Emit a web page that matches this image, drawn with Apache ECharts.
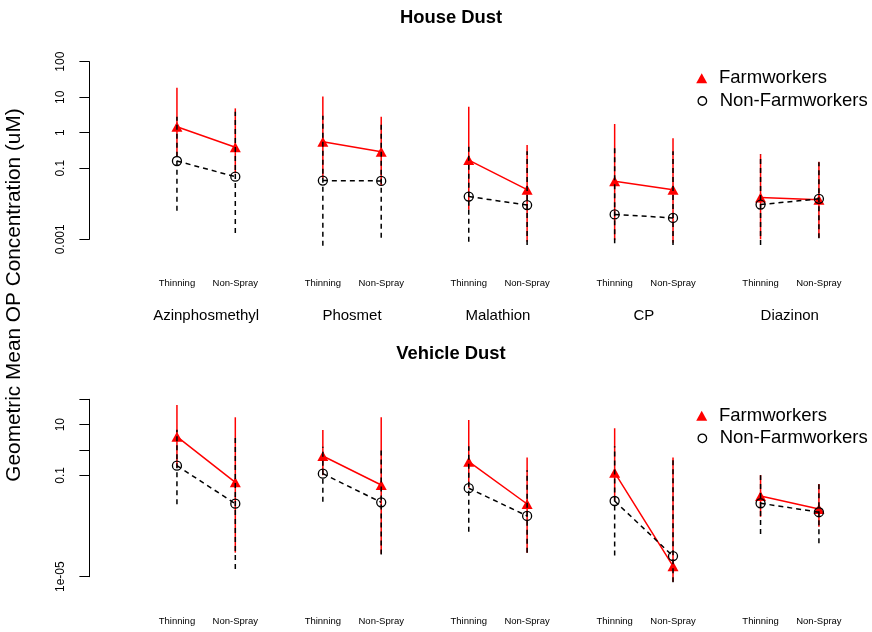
<!DOCTYPE html>
<html>
<head>
<meta charset="utf-8">
<script src="https://cdn.jsdelivr.net/npm/echarts@6/dist/echarts.min.js"></script>
<style>
  html, body { margin: 0; padding: 0; background: #fff; }
  #chart { width: 872px; height: 632px; }
</style>
</head>
<body>
<div id="chart"></div>
<script>
// ---------------- data ----------------
const compounds = ['Azinphosmethyl', 'Phosmet', 'Malathion', 'CP', 'Diazinon'];
const seasons = ['Thinning', 'Non-Spray'];
const seriesNames = ['Farmworkers', 'Non-Farmworkers'];
const panelTitles = ['House Dust', 'Vehicle Dust'];
const yTitle = 'Geometric Mean OP Concentration (uM)';

// House dust (order: Azin T, Azin NS, Phosmet T, Phosmet NS, ...)
const houseFarmMean = [1.48, 0.39, 0.56, 0.29, 0.17, 0.025, 0.043, 0.025, 0.015, 0.013];
const houseFarmLow  = [0.21, 0.072, 0.052, 0.032, 0.0068, 0.00085, 0.00095, 0.0008, 0.001, 0.0011];
const houseFarmHigh = [18.5, 4.85, 10.4, 2.83, 5.4, 0.45, 1.76, 0.70, 0.25, 0.153];
const houseNonMean  = [0.16, 0.058, 0.045, 0.044, 0.016, 0.0092, 0.005, 0.004, 0.0095, 0.0138];
const houseNonLow   = [0.0064, 0.0015, 0.00066, 0.0011, 0.00086, 0.00069, 0.00078, 0.00069, 0.00069, 0.00107];
const houseNonHigh  = [2.8, 3.9, 3.0, 2.0, 0.41, 0.3, 0.45, 0.3, 0.24, 0.148];

// Vehicle dust
const vehFarmMean = [3.35, 0.053, 0.58, 0.0415, 0.345, 0.0074, 0.127, 0.000026, 0.0153, 0.0047];
const vehFarmLow  = [0.2, 0.000089, 0.1, 0.00008, 0.032, 0.000089, 0.01, 0.0000063, 0.0023, 0.00093];
const vehFarmHigh = [59.6, 19.5, 6.2, 19.5, 15.2, 0.5, 7.2, 0.51, 0.103, 0.045];
const vehNonMean  = [0.24, 0.0076, 0.116, 0.0086, 0.031, 0.0025, 0.0097, 0.000065, 0.0079, 0.0035];
const vehNonLow   = [0.0072, 0.00002, 0.0091, 0.000076, 0.0006, 0.000089, 0.000068, 0.000006, 0.00048, 0.00021];
const vehNonHigh  = [6.3, 4.0, 1.35, 1.0, 1.4, 0.16, 1.4, 0.5, 0.1, 0.045];

// axis ticks / labels
const houseTicks = [0.001, 0.1, 1, 10, 100];
const houseLabels = [0.001, 0.1, 1, 10, 100];
const vehTicks = [1e-5, 0.1, 1, 10, 100];
const vehLabels = [1e-5, 0.1, 10];

// ---------------- helpers ----------------
const FONT = 'Liberation Sans, Arial, sans-serif';
const RED = '#ff0000';
// x position of point i: pairs separated by a gap of 1.5 units
const xPos = (i) => Math.floor(i / 2) * 2.5 + (i % 2) + 1;
const groupMid = (g) => g * 2.5 + 1.5;
const N = houseFarmMean.length;

function fmtY(v) {
  const e = Math.round(Math.log10(v));
  if (e <= -5) return '1e-' + String(-e).padStart(2, '0');
  return String(+v.toPrecision(6));
}
function lineData(mean) {
  const d = [];
  for (let i = 0; i < N; i++) {
    d.push([xPos(i), mean[i]]);
    if (i % 2 === 1) d.push([xPos(i) + 0.75, '-']);
  }
  return d;
}
function barData(lo, hi) {
  return lo.map((l, i) => [xPos(i), l, hi[i]]);
}
function barRender(color, dashed) {
  return function (params, api) {
    const x = api.value(0);
    const p1 = api.coord([x, api.value(1)]);
    const p2 = api.coord([x, api.value(2)]);
    return {
      type: 'line',
      shape: { x1: p1[0], y1: p1[1], x2: p2[0], y2: p2[1] },
      style: { stroke: color, lineWidth: 1.5, lineDash: dashed ? [5, 4] : null }
    };
  };
}

const grids = [
  { left: 89.4, right: 23.9, top: 61.7, height: 177.6 },
  { left: 89.4, right: 23.9, top: 399.3, height: 177.4 }
];

function xAxisSeason(gi) {
  return {
    type: 'value', gridIndex: gi, min: -0.5, max: 12.5, interval: 0.5,
    axisLine: { show: false, onZero: false }, axisTick: { show: false }, splitLine: { show: false },
    axisLabel: {
      margin: 39, fontSize: 9.5, fontFamily: FONT, color: '#000', lineHeight: 11,
      showMinLabel: true, showMaxLabel: true,
      formatter: (v) => {
        for (let i = 0; i < N; i++) if (Math.abs(xPos(i) - v) < 1e-6) return seasons[i % 2];
        return '';
      }
    }
  };
}
function yAxisLog(gi, min, max, ticks, labels) {
  return {
    type: 'log', logBase: 10, gridIndex: gi, min: min, max: max, position: 'left',
    axisLine: { show: true, onZero: false, lineStyle: { color: '#000', width: 1 } },
    axisTick: { show: true, inside: false, length: 10, customValues: ticks, lineStyle: { color: '#000', width: 1 } },
    splitLine: { show: false },
    axisLabel: {
      customValues: labels, rotate: 90, margin: 23, fontSize: 12, fontFamily: FONT,
      color: '#000', formatter: fmtY
    }
  };
}

const xAxes = [
  xAxisSeason(0),
  {
    type: 'value', gridIndex: 0, min: -0.5, max: 12.5, interval: 0.5, position: 'bottom',
    axisLine: { show: false, onZero: false }, axisTick: { show: false }, splitLine: { show: false },
    axisLabel: {
      margin: 68, fontSize: 15, fontFamily: FONT, color: '#000', lineHeight: 17,
      showMinLabel: true, showMaxLabel: true,
      formatter: (v) => {
        for (let g = 0; g < compounds.length; g++) if (Math.abs(groupMid(g) - v) < 1e-6) return compounds[g];
        return '';
      }
    }
  },
  xAxisSeason(1)
];
const yAxes = [
  yAxisLog(0, 0.001, 100, houseTicks, houseLabels),
  yAxisLog(1, 1e-5, 100, vehTicks, vehLabels)
];

const panels = [
  { xi: 0, yi: 0, fm: houseFarmMean, fl: houseFarmLow, fh: houseFarmHigh, nm: houseNonMean, nl: houseNonLow, nh: houseNonHigh },
  { xi: 2, yi: 1, fm: vehFarmMean, fl: vehFarmLow, fh: vehFarmHigh, nm: vehNonMean, nl: vehNonLow, nh: vehNonHigh }
];
const series = [];
panels.forEach((p) => {
  series.push({
    type: 'custom', name: 'farm-range', xAxisIndex: p.xi, yAxisIndex: p.yi,
    renderItem: barRender(RED, false), data: barData(p.fl, p.fh),
    encode: { x: 0, y: [1, 2] }, silent: true, z: 2
  });
  series.push({
    type: 'line', name: seriesNames[0], xAxisIndex: p.xi, yAxisIndex: p.yi,
    data: lineData(p.fm), connectNulls: false, clip: false,
    symbol: 'triangle', symbolSize: [11, 10],
    itemStyle: { color: RED, borderWidth: 0 },
    lineStyle: { color: RED, width: 1.5 }, z: 3, animation: false
  });
  series.push({
    type: 'custom', name: 'non-range', xAxisIndex: p.xi, yAxisIndex: p.yi,
    renderItem: barRender('#000', true), data: barData(p.nl, p.nh),
    encode: { x: 0, y: [1, 2] }, silent: true, z: 4
  });
  series.push({
    type: 'line', name: seriesNames[1], xAxisIndex: p.xi, yAxisIndex: p.yi,
    data: lineData(p.nm), connectNulls: false, clip: false,
    symbol: 'circle', symbolSize: 9,
    itemStyle: { color: 'rgba(0,0,0,0)', borderColor: '#000', borderWidth: 1.3 },
    lineStyle: { color: '#000', width: 1.5, type: [5, 4] }, z: 5, animation: false
  });
});

function legendItem(name, centerY, isTri) {
  const w = isTri ? 11 : 8.5;
  return {
    orient: 'vertical', left: 701.7 - w / 2, top: centerY - 11, padding: 0,
    itemWidth: w, itemHeight: isTri ? 10 : 8.5, itemGap: 0,
    selectedMode: false,
    textStyle: { fontSize: 18.5, fontFamily: FONT, color: '#000', lineHeight: 22, padding: [0, 0, 0, 719 - (701.7 + w / 2 + 5)] },
    data: [isTri
      ? { name: name, icon: 'triangle', itemStyle: { color: RED, borderWidth: 0 } }
      : { name: name, icon: 'circle', itemStyle: { color: 'rgba(0,0,0,0)', borderColor: '#000', borderWidth: 1.3 } }]
  };
}

const option = {
  animation: false,
  backgroundColor: '#fff',
  grid: grids,
  xAxis: xAxes,
  yAxis: yAxes,
  series: series,
  legend: [
    legendItem(seriesNames[0], 78.3, true),
    legendItem(seriesNames[1], 101, false),
    legendItem(seriesNames[0], 415.7, true),
    legendItem(seriesNames[1], 438.3, false)
  ],
  graphic: [
    { type: 'text', x: 451, y: 18, style: { text: panelTitles[0], fontSize: 18.4, fontWeight: 'bold', fontFamily: FONT, fill: '#000', textAlign: 'center', textVerticalAlign: 'middle' } },
    { type: 'text', x: 451, y: 354, style: { text: panelTitles[1], fontSize: 18.4, fontWeight: 'bold', fontFamily: FONT, fill: '#000', textAlign: 'center', textVerticalAlign: 'middle' } },
    { type: 'text', x: 14, y: 295, rotation: Math.PI / 2, style: { text: yTitle, fontSize: 20.8, fontFamily: FONT, fill: '#000', textAlign: 'center', textVerticalAlign: 'middle' } }
  ]
};

const chart = echarts.init(document.getElementById('chart'), null, { renderer: 'canvas' });
chart.setOption(option);
</script>
</body>
</html>
